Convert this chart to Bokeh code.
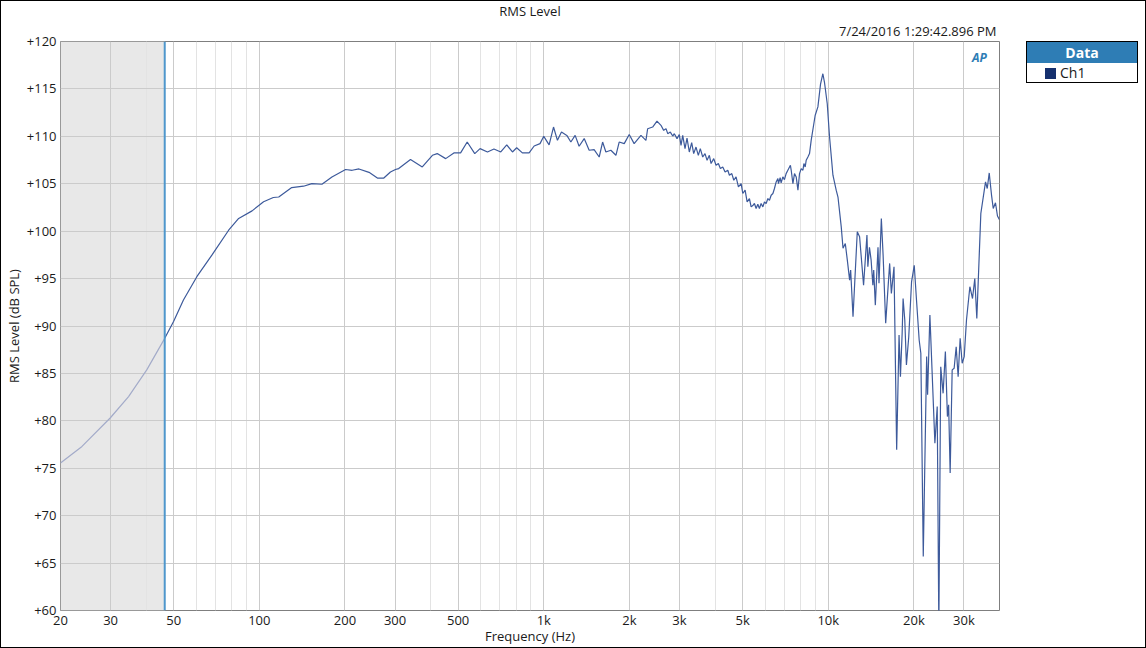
import numpy as np
from bokeh.plotting import figure
from bokeh.layouts import row
from bokeh.models import FixedTicker, Span, BoxAnnotation, Title, Label, Div
from bokeh.embed import file_html
from bokeh.resources import INLINE

# RMS level (dB SPL) against frequency (Hz)
freq = [20, 23.8, 29.9, 34.7, 40.2, 46.5, 50, 54.1, 60.3, 68.2, 78, 84.6, 94.3,
        103.5, 112, 117, 130, 143, 153, 166, 180, 201, 212, 224, 243, 260, 274,
        289, 301, 309, 340, 374, 406, 422, 452, 483, 510, 538, 572, 597, 634,
        668, 706, 741, 776, 803, 841, 888, 925, 970, 1000, 1044, 1082, 1117,
        1154, 1205, 1245, 1289, 1331, 1387, 1444, 1503, 1566, 1610, 1653, 1721,
        1793, 1841, 1918, 1997, 2078, 2196, 2286, 2318, 2414, 2500, 2582, 2639,
        2690, 2727, 2785, 2840, 2877, 2940, 2995, 3037, 3079, 3137, 3188, 3248,
        3311, 3365, 3429, 3494, 3550, 3620, 3688, 3750, 3820, 3873, 3958, 4032,
        4109, 4176, 4258, 4339, 4435, 4493, 4581, 4656, 4742, 4834, 4940, 5008,
        5102, 5186, 5284, 5357, 5431, 5502, 5578, 5655, 5728, 5808, 5890, 5967,
        6050, 6134, 6214, 6300, 6389, 6471, 6561, 6653, 6683, 6776, 6830, 6925,
        7015, 7112, 7211, 7362, 7410, 7513, 7610, 7716, 7824, 7926, 8035, 8147,
        8211, 8298, 8365, 8482, 8594, 8710, 8994, 9197, 9395, 9575, 9700, 9920,
        10107, 10388, 10670, 10820, 11110, 11270, 11480, 11670, 11890, 11990,
        12220, 12650, 12890, 13310, 13680, 13780, 13960, 14150, 14350, 14450,
        14640, 14960, 15080, 15370, 15590, 15920, 16440, 16670, 17030, 17400,
        17740, 17940, 18190, 18330, 18580, 18830, 19190, 19630, 20060, 20430,
        20880, 21160, 21580, 22180, 22350, 22770, 23710, 24160, 24480, 24860,
        25340, 25810, 26240, 26500, 26830, 27270, 27710, 28170, 28620, 29090,
        29570, 30060, 30620, 31470, 32150, 32750, 33290, 34390, 35720, 36220,
        36810, 37500, 38020, 38720, 39350, 40000]
level = [75.55, 77.3, 80.3, 82.56, 85.37, 88.7, 90.5, 92.74, 95.2, 97.5, 100.1,
         101.34, 102.14, 103.1, 103.55, 103.6, 104.6, 104.74, 105.02, 104.95,
         105.72, 106.5, 106.42, 106.56, 106.2, 105.6, 105.6, 106.24, 106.5, 106.6,
         107.55, 106.77, 108.0, 108.18, 107.65, 108.25, 108.25, 109.4, 108.18,
         108.7, 108.35, 108.66, 108.35, 109.1, 108.35, 108.8, 108.25, 108.25,
         108.98, 109.23, 110.0, 109.1, 110.98, 109.58, 110.45, 110.1, 109.4,
         110.1, 108.95, 109.76, 108.53, 108.6, 107.82, 109.4, 108.35, 108.53,
         108.0, 109.4, 109.23, 110.2, 109.23, 110.1, 109.58, 110.8, 110.98, 111.6,
         111.16, 110.63, 110.81, 110.28, 110.45, 110.03, 110.28, 109.76, 110.18,
         109.05, 110.1, 108.7, 109.82, 108.35, 109.33, 108.18, 108.87, 108.0,
         108.7, 107.82, 108.18, 107.47, 108.0, 107.13, 107.65, 106.95, 107.13,
         106.6, 106.77, 106.24, 106.42, 105.9, 106.07, 105.37, 105.72, 104.66,
         105.02, 103.97, 104.32, 103.08, 103.44, 102.56, 102.7, 102.92, 102.39,
         102.84, 102.39, 102.92, 102.56, 103.08, 102.92, 103.44, 103.26, 103.79,
         103.97, 104.5, 105.19, 105.55, 105.02, 105.65, 105.09, 105.72, 105.44,
         106.07, 106.42, 106.95, 106.42, 105.02, 106.07, 105.72, 104.32, 106.07,
         106.6, 106.42, 107.13, 106.77, 107.47, 107.82, 108.18, 109.58, 112.2,
         113.1, 115.5, 116.6, 115.7, 113.44, 109.93, 105.9, 104.3, 103.6, 100.45,
         98.2, 98.7, 96.95, 94.84, 95.9, 90.98, 99.93, 99.4, 94.3, 99.6, 96.25,
         98.3, 96.95, 94.3, 95.9, 92.2, 98.3, 94.5, 101.34, 97.5, 90.3, 96.6,
         93.44, 96.25, 76.95, 89.05, 84.66, 89.23, 92.9, 90.63, 85.9, 88.87,
         94.66, 96.4, 92.74, 88.5, 87.13, 65.7, 86.77, 82.74, 91.16, 77.65, 81.5,
         58.0, 85.7, 82.9, 87.3, 80.45, 81.7, 74.5, 85.37, 85.55, 87.8, 84.66,
         88.7, 86.07, 86.77, 90.63, 94.14, 92.9, 95.0, 90.8, 101.86, 105.2, 104.5,
         106.14, 103.8, 102.4, 103.0, 101.6, 101.2]

cursor_hz = 46.5

x_ticks = [20, 30, 50, 100, 200, 300, 500, 1000, 2000, 3000, 5000, 10000, 20000, 30000]
x_tick_labels = ["20", "30", "50", "100", "200", "300", "500", "1k", "2k", "3k",
                 "5k", "10k", "20k", "30k"]
x_minor_ticks = [40, 60, 70, 80, 90, 400, 600, 700, 800, 900, 4000, 6000, 7000,
                 8000, 9000, 40000]
y_ticks = list(range(60, 121, 5))
y_tick_labels = ["+%d" % v for v in y_ticks]

title_text = "RMS Level"
timestamp_text = "7/24/2016 1:29:42.896 PM"
x_label = "Frequency (Hz)"
y_label = "RMS Level (dB SPL)"
legend_title = "Data"
series_name = "Ch1"

FONT = "Open Sans"
TXT = "#1a1a1a"

p = figure(width=1016, height=646, x_axis_type="log", x_range=(20, 40000),
           y_range=(60, 120), output_backend="svg", toolbar_location=None,
           min_border_left=59, min_border_right=18, min_border_top=40,
           min_border_bottom=36)

p.title.text = title_text
p.title.align = "center"
p.title.vertical_align = "top"
p.title.text_font = FONT
p.title.text_font_size = "13px"
p.title.text_font_style = "normal"
p.title.text_color = TXT
p.title.text_line_height = 0.75
p.title.standoff = 0
p.add_layout(Title(text=timestamp_text, align="right", vertical_align="top",
                   text_font=FONT, text_font_size="13px", text_font_style="normal",
                   text_color=TXT, text_line_height=0.75, standoff=0,
                   offset=3), "above")

xt = FixedTicker(ticks=x_ticks, minor_ticks=x_minor_ticks)
p.xaxis.ticker = xt
p.xgrid.ticker = xt
p.xaxis.major_label_overrides = dict(zip(x_ticks, x_tick_labels))
yt = FixedTicker(ticks=y_ticks)
p.yaxis.ticker = yt
p.ygrid.ticker = yt
p.yaxis.major_label_overrides = dict(zip(y_ticks, y_tick_labels))

p.xaxis.axis_label = x_label
p.yaxis.axis_label = y_label
for ax in (p.xaxis, p.yaxis):
    ax.axis_line_color = None
    ax.major_tick_line_color = None
    ax.minor_tick_line_color = None
    ax.major_tick_out = 0
    ax.minor_tick_out = 0
    ax.major_label_text_font = FONT
    ax.major_label_text_font_size = "13px"
    ax.major_label_text_color = TXT
    ax.axis_label_text_font = FONT
    ax.axis_label_text_font_size = "13px"
    ax.axis_label_text_font_style = "normal"
    ax.axis_label_text_color = TXT
p.xaxis.major_label_standoff = 0
p.xaxis.axis_label_standoff = -5
p.yaxis.major_label_standoff = 4
p.yaxis.axis_label_standoff = 1

p.xgrid.grid_line_color = "#cbcbcb"
p.ygrid.grid_line_color = "#cbcbcb"
p.xgrid.minor_grid_line_color = "#e3e3e3"
p.outline_line_color = "#7f7f7f"

p.add_layout(BoxAnnotation(left=20, right=cursor_hz, fill_color="#e8e8e8",
                           fill_alpha=1.0, line_color=None, level="image"))

f = np.array(freq)
lv = np.array(level)
lo = f <= cursor_hz
hi = f >= cursor_hz
p.line(f[lo], lv[lo], line_color="#a3abc9", line_width=1.2)
p.line(f[hi], lv[hi], line_color="#3d5a9b", line_width=1.2)

p.add_layout(Span(location=cursor_hz, dimension="height", line_color="#4f97cc",
                  line_width=2))

p.add_layout(Label(x=34000, y=118.3, text="AP", text_font=FONT,
                   text_font_style="bold italic", text_color="#2e7db5",
                   text_font_size="12px", text_align="center",
                   text_baseline="middle"))

# legend panel to the right of the plot
legend_html = (
    '<div style="margin:40px 0 0 9px; width:112px; border:1.5px solid #000;'
    ' font-family:\'Open Sans\'; font-size:14px; color:%s;">'
    '<div style="background:#2e7db5; color:#fff; font-weight:bold;'
    ' text-align:center; height:21px; line-height:21px;">%s</div>'
    '<div style="height:19px; line-height:19px; padding-left:18px;">'
    '<span style="display:inline-block; width:11px; height:11px;'
    ' background:#15306e; vertical-align:-1px; margin-right:4px;"></span>%s</div>'
    '</div>' % (TXT, legend_title, series_name)
)
leg = Div(text=legend_html, width=128, height=646, margin=0)

layout = row(p, leg, styles={"border": "1px solid black"})

open("out.html", "w").write(file_html(layout, INLINE))
